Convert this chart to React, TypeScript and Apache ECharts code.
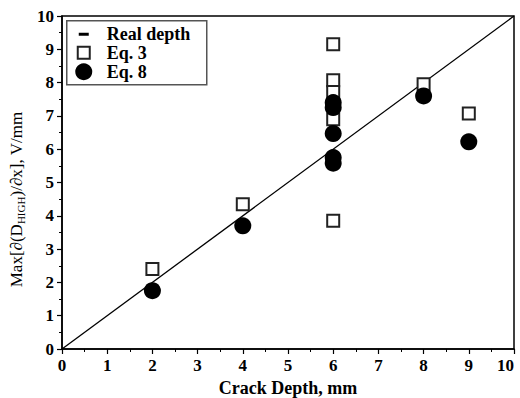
import React, { useEffect, useRef } from "react";
import * as echarts from "echarts";

const realDepth: number[][] = [[0, 0], [10, 10]];
const eq3: number[][] = [
  [2, 2.4], [4, 4.35], [6, 9.15], [6, 8.07], [6, 7.72], [6, 6.9], [6, 3.85], [8, 7.95], [9, 7.07],
];
const eq8: number[][] = [
  [2, 1.75], [4, 3.7], [6, 7.4], [6, 7.25], [6, 6.47], [6, 5.75], [6, 5.58], [8, 7.6], [9, 6.22],
];
const xTicks = [0, 1, 2, 3, 4, 5, 6, 7, 8, 9, 10];
const legendNames = ["Real depth", "Eq. 3", "Eq. 8"];

const FONT = "'Liberation Serif', 'Times New Roman', serif";

export default function App() {
  const ref = useRef<HTMLDivElement>(null);
  useEffect(() => {
    const chart = echarts.init(ref.current!, undefined, { renderer: "svg" });
    const axisCommon = {
      min: 0,
      max: 10,
      interval: 1,
      axisLine: { show: true, onZero: false, lineStyle: { color: "#000", width: 1.5 } },
      axisTick: { show: true, inside: false, length: 5, lineStyle: { color: "#000", width: 1.2 } },
      minorTick: { show: true, splitNumber: 2, length: 3, lineStyle: { color: "#000", width: 1 } },
      splitLine: { show: false },
      axisLabel: { color: "#000", fontFamily: FONT, fontWeight: "bold", fontSize: 17 },
    };
    chart.setOption({
      animation: false,
      grid: {
        left: 62, right: 6, top: 16, bottom: 49,
        containLabel: false,
        outerBoundsMode: "none",
        show: true, borderColor: "#000", borderWidth: 1.5,
      },
      xAxis: {
        type: "value",
        ...axisCommon,
        axisLabel: {
          ...axisCommon.axisLabel,
          margin: 8,
          alignMaxLabel: "right",
          formatter: (v: number) => (xTicks.includes(v) ? String(v) : ""),
        },
        name: "Crack Depth, mm",
        nameLocation: "middle",
        nameGap: 28,
        nameTextStyle: { color: "#000", fontFamily: FONT, fontWeight: "bold", fontSize: 18 },
      },
      yAxis: {
        type: "value",
        ...axisCommon,
        axisLabel: { ...axisCommon.axisLabel, margin: 8 },
        name: "{a|Max[∂(D}{s|HIGH}{a|)/∂x], V/mm}",
        nameLocation: "middle",
        nameGap: 34,
        nameTextStyle: {
          color: "#000",
          fontFamily: FONT,
          padding: [0, 34, 0, 0],
          rich: {
            a: { fontFamily: FONT, fontSize: 17, color: "#000", lineHeight: 20 },
            s: { fontFamily: FONT, fontSize: 11, color: "#000", lineHeight: 20, verticalAlign: "bottom" },
          },
        },
      },
      series: [
        {
          name: legendNames[0],
          type: "line",
          data: realDepth,
          symbol: "none",
          lineStyle: { color: "#000", width: 1.3 },
          z: 1,
        },
        {
          name: legendNames[1],
          type: "scatter",
          data: eq3,
          symbol: "rect",
          symbolSize: 12,
          itemStyle: { color: "#fff", borderColor: "#222", borderWidth: 2, opacity: 1 },
          z: 2,
        },
        {
          name: legendNames[2],
          type: "scatter",
          data: eq8,
          symbol: "circle",
          symbolSize: 17,
          itemStyle: { color: "#000", opacity: 1 },
          z: 3,
        },
      ],
      graphic: [
        {
          type: "group",
          left: 66,
          top: 20,
          children: [
            { type: "rect", shape: { x: 0, y: 0, width: 140, height: 64 }, style: { fill: "#fff", stroke: "#555", lineWidth: 1.5 } },
            { type: "rect", shape: { x: 12, y: 12, width: 10, height: 3 }, style: { fill: "#000" } },
            { type: "rect", shape: { x: 11, y: 26, width: 12, height: 12 }, style: { fill: "#fff", stroke: "#222", lineWidth: 2 } },
            { type: "circle", shape: { cx: 17, cy: 51, r: 8.5 }, style: { fill: "#000" } },
            { type: "text", x: 40, y: 13, style: { text: legendNames[0], font: `bold 18px ${FONT}`, fill: "#000", verticalAlign: "middle" } },
            { type: "text", x: 40, y: 32, style: { text: legendNames[1], font: `bold 18px ${FONT}`, fill: "#000", verticalAlign: "middle" } },
            { type: "text", x: 40, y: 51, style: { text: legendNames[2], font: `bold 18px ${FONT}`, fill: "#000", verticalAlign: "middle" } },
          ],
        },
      ],
    });
    return () => chart.dispose();
  }, []);
  return <div ref={ref} style={{ width: 520, height: 398, position: "absolute", left: 0, top: 0 }} />;
}
